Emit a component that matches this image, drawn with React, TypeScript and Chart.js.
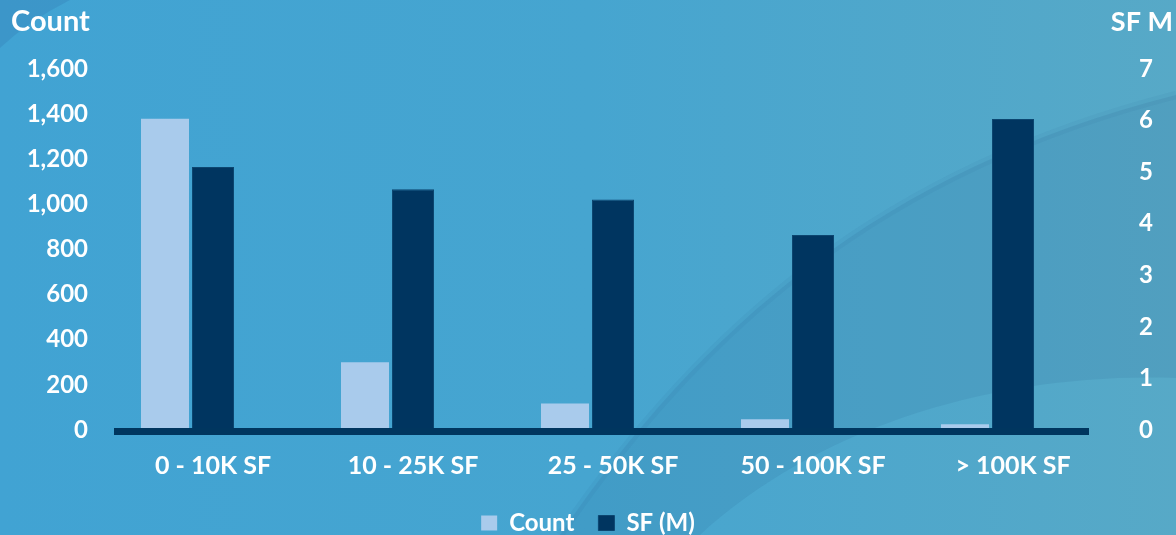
import React, { useEffect, useRef } from "react";
import { Chart, registerables } from "chart.js";

Chart.register(...registerables);

// Size bands and their values
const categories = ["0 - 10K SF", "10 - 25K SF", "25 - 50K SF", "50 - 100K SF", "> 100K SF"];
const countValues = [1380, 300, 118, 48, 26];
const sfValues = [5.1, 4.67, 4.47, 3.78, 6.03];

// Axis tick values
const countTicks = [0, 200, 400, 600, 800, 1000, 1200, 1400, 1600];
const sfTicks = [0, 1, 2, 3, 4, 5, 6, 7];

const FONT = "Lato";
const WHITE = "#FFFFFF";
const LIGHT_BAR = "#A9CBEC";
const DARK_BAR = "#003560";
const AXIS_LINE = "#00365F";

const backdrop = {
  id: "backdrop",
  beforeDraw(chart: any) {
    const { ctx, width: w, height: h } = chart;
    ctx.save();
    const g = ctx.createLinearGradient(0, 0, w, 0);
    g.addColorStop(0, "#41A3D3");
    g.addColorStop(0.5, "#46A5D0");
    g.addColorStop(1, "#57A9C7");
    ctx.fillStyle = g;
    ctx.fillRect(0, 0, w, h);

    // broad sweep across the lower right
    ctx.beginPath();
    ctx.moveTo(560, h);
    ctx.bezierCurveTo(700, 330, 880, 170, w, 95);
    ctx.lineTo(w, 378);
    ctx.bezierCurveTo(1000, 372, 820, 425, 700, h);
    ctx.closePath();
    ctx.fillStyle = "rgba(30,80,130,0.10)";
    ctx.fill();

    // soft edge along the sweep
    ctx.beginPath();
    ctx.moveTo(560, h);
    ctx.bezierCurveTo(700, 330, 880, 170, w, 95);
    ctx.strokeStyle = "rgba(30,80,130,0.06)";
    ctx.lineWidth = 8;
    ctx.stroke();

    // streak in the top-left corner
    ctx.beginPath();
    ctx.moveTo(0, 0);
    ctx.lineTo(70, 0);
    ctx.quadraticCurveTo(30, 20, 0, 48);
    ctx.closePath();
    ctx.fillStyle = "rgba(40,90,150,0.16)";
    ctx.fill();
    ctx.restore();
  },
};

const axisDecor = {
  id: "axisDecor",
  afterDatasetsDraw(chart: any) {
    const { ctx, chartArea } = chart;
    const x = chart.scales.x;
    const step = x.width / categories.length;
    const right = x.getPixelForValue(categories.length - 1) + step * 0.38;
    ctx.save();
    ctx.fillStyle = AXIS_LINE;
    ctx.fillRect(chartArea.left + 1, chartArea.bottom - 2, right - chartArea.left - 1, 7);
    ctx.restore();
  },
  afterDraw(chart: any) {
    const { ctx, chartArea, width } = chart;
    ctx.save();
    ctx.fillStyle = WHITE;
    ctx.font = `bold 29px ${FONT}`;
    ctx.textBaseline = "middle";
    ctx.textAlign = "left";
    ctx.fillText("Count", 11, chartArea.top - 47);
    ctx.font = `bold 27px ${FONT}`;
    ctx.textAlign = "right";
    ctx.fillText("SF M", width - 3, chartArea.top - 47);
    ctx.restore();
  },
};

export default function App() {
  const canvasRef = useRef<HTMLCanvasElement | null>(null);

  useEffect(() => {
    let chart: Chart | null = null;
    let cancelled = false;
    const build = () => {
      if (cancelled || !canvasRef.current) return;
      chart = new Chart(canvasRef.current, {
        type: "bar",
        data: {
          labels: categories,
          datasets: [
            {
              label: "Count",
              data: countValues,
              backgroundColor: LIGHT_BAR,
              yAxisID: "y",
              categoryPercentage: 0.72,
              barPercentage: 1.0,
            },
            {
              label: "SF (M)",
              data: sfValues,
              backgroundColor: DARK_BAR,
              borderColor: "#0C4670",
              borderWidth: 1,
              yAxisID: "y2",
              categoryPercentage: 0.72,
              barPercentage: 0.875,
            },
            {
              // empty slot that keeps the SF bar centred on its band
              label: "",
              data: categories.map(() => null),
              yAxisID: "y",
              categoryPercentage: 0.72,
            },
          ],
        },
        options: {
          animation: false,
          responsive: false,
          devicePixelRatio: 1,
          layout: { padding: { top: 69, bottom: -10, left: 0, right: 0 } },
          plugins: {
            tooltip: { enabled: false },
            legend: {
              position: "bottom",
              labels: {
                filter: (item: any) => item.text !== "",
                color: WHITE,
                font: { family: FONT, size: 24, weight: "bold" },
                boxWidth: 16,
                boxHeight: 15,
                padding: 24,
              },
            },
          },
          scales: {
            x: {
              grid: { display: false, drawTicks: false },
              border: { display: false },
              ticks: {
                color: WHITE,
                font: { family: FONT, size: 25, weight: "bold" },
                padding: 21,
                maxRotation: 0,
              },
              afterFit: (s: any) => {
                s.height = 57;
              },
            },
            y: {
              position: "left",
              min: 0,
              max: countTicks[countTicks.length - 1],
              grid: { display: false, drawTicks: false },
              border: { display: false },
              afterBuildTicks: (s: any) => {
                s.ticks = countTicks.map((v) => ({ value: v }));
              },
              ticks: {
                color: WHITE,
                font: { family: FONT, size: 24, weight: "bold" },
                padding: 25,
                callback: (v: any) => Number(v).toLocaleString("en-US"),
              },
              afterFit: (s: any) => {
                s.width = 113;
              },
            },
            y2: {
              position: "right",
              min: 0,
              max: sfTicks[sfTicks.length - 1],
              grid: { display: false, drawTicks: false },
              border: { display: false },
              afterBuildTicks: (s: any) => {
                s.ticks = sfTicks.map((v) => ({ value: v }));
              },
              ticks: {
                color: WHITE,
                font: { family: FONT, size: 24, weight: "bold" },
                padding: 26,
              },
              afterFit: (s: any) => {
                s.width = 63;
              },
            },
          },
        },
        plugins: [backdrop, axisDecor],
      } as any);
    };
    const fontsReady = (document as any).fonts
      ? Promise.all([
          (document as any).fonts.load(`bold 24px ${FONT}`),
          (document as any).fonts.load(`bold 29px ${FONT}`),
        ]).catch(() => null)
      : Promise.resolve(null);
    fontsReady.then(build);
    return () => {
      cancelled = true;
      if (chart) chart.destroy();
    };
  }, []);

  return (
    <div style={{ position: "fixed", left: 0, top: 0, width: 1176, height: 535, overflow: "hidden" }}>
      <canvas ref={canvasRef} width={1176} height={535} style={{ display: "block", width: 1176, height: 535 }} />
    </div>
  );
}
